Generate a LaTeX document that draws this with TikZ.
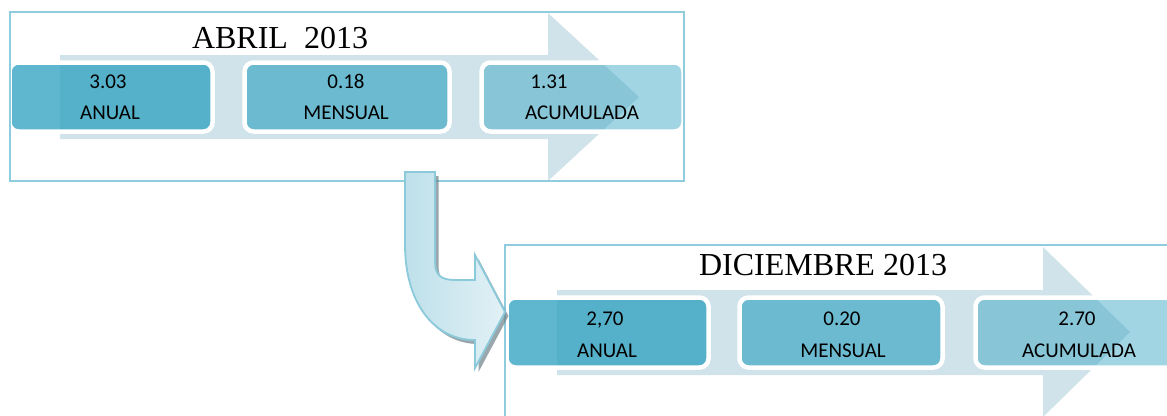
\documentclass[tikz,border=0pt]{standalone}
\usepackage{fontspec}
\setmainfont{Liberation Serif}
\newfontfamily\carl{Carlito}
\definecolor{framec}{RGB}{143,205,222}
\definecolor{arrowc}{RGB}{208,227,234}
\definecolor{boxc}{RGB}{48,162,193}
\definecolor{bentL}{RGB}{190,224,234}
\definecolor{bentR}{RGB}{226,241,246}
\definecolor{bentB}{RGB}{138,202,219}
\definecolor{shadowc}{RGB}{110,130,138}
\tikzset{
  framebox/.style={draw=framec, line width=1.6pt, fill=white},
  bigarrow/.style={fill=arrowc},
  stepbox/.style={draw=white, line width=4.5pt, rounded corners=9pt, fill=boxc},
  titletext/.style={anchor=base, font=\fontsize{32}{36}\selectfont, inner sep=0pt},
  valtext/.style={anchor=base, font=\carl\fontsize{21}{24}\selectfont, inner sep=0pt},
}
\begin{document}
\begin{tikzpicture}[x=1pt,y=-1pt]
\useasboundingbox (0,0) rectangle (1167,415);
\clip (0,0) rectangle (1167,415);
% ---------- top panel ----------
\path[framebox] (10,12) rectangle (684,181);
\path[bigarrow] (60,55) -- (548,55) -- (548,13) -- (639,97) -- (548,181) -- (548,139) -- (60,139) -- cycle;
\path[stepbox, fill opacity=0.77] (9.5,62.5) rectangle (212.5,131.5);
\path[stepbox, fill opacity=0.62] (244.5,62.5) rectangle (449.5,131.5);
\path[stepbox, fill opacity=0.45] (481.5,62.5) rectangle (683.5,131.5);
\draw[draw=framec, line width=1.6pt] (10,12) rectangle (684,181);
\node[titletext] (t1) at (280,48) {ABRIL\ \ 2013};
\node[valtext] (a1v) at (108,88) {3.03};
\node[valtext] (a1l) at (110,119) {ANUAL};
\node[valtext] (a2v) at (346,88) {0.18};
\node[valtext] (a2l) at (346,119) {MENSUAL};
\node[valtext] (a3v) at (549,88) {1.31};
\node[valtext] (a3l) at (582,119) {ACUMULADA};
% ---------- bottom panel ----------
\path[framebox] (505,245) rectangle (1180,430);
\path[bigarrow] (557,290) -- (1043,290) -- (1043,247) -- (1130,332) -- (1043,417) -- (1043,375) -- (557,375) -- cycle;
\path[stepbox, fill opacity=0.77] (506.5,297.5) rectangle (708.5,367.5);
\path[stepbox, fill opacity=0.62] (739.5,297.5) rectangle (942.5,367.5);
\path[stepbox, fill opacity=0.45] (975.5,297.5) rectangle (1185,367.5);
\draw[draw=framec, line width=1.6pt] (505,245) rectangle (1180,430);
\node[titletext] (t2) at (823,275) {DICIEMBRE 2013};
\node[valtext] (b1v) at (605,325) {2,70};
\node[valtext] (b1l) at (607,357) {ANUAL};
\node[valtext] (b2v) at (842,325) {0.20};
\node[valtext] (b2l) at (843,357) {MENSUAL};
\node[valtext] (b3v) at (1077,325) {2.70};
\node[valtext] (b3l) at (1079,357) {ACUMULADA};
% ---------- bent arrow ----------
\def\bentpath{(405,172) -- (435,172) -- (435,262) .. controls (435,275) and (441,280) .. (455,280) -- (475,280) -- (475,255) -- (505,312) -- (475,368) -- (475,340) .. controls (432,340) and (405,300) .. (405,245) -- cycle}
\fill[shadowc, opacity=0.7, shift={(3.5,4)}] \bentpath;
\shade[left color=bentL, right color=bentR] \bentpath;
\draw[draw=bentB, line width=1.8pt, line join=miter] \bentpath;
\end{tikzpicture}
\end{document}
